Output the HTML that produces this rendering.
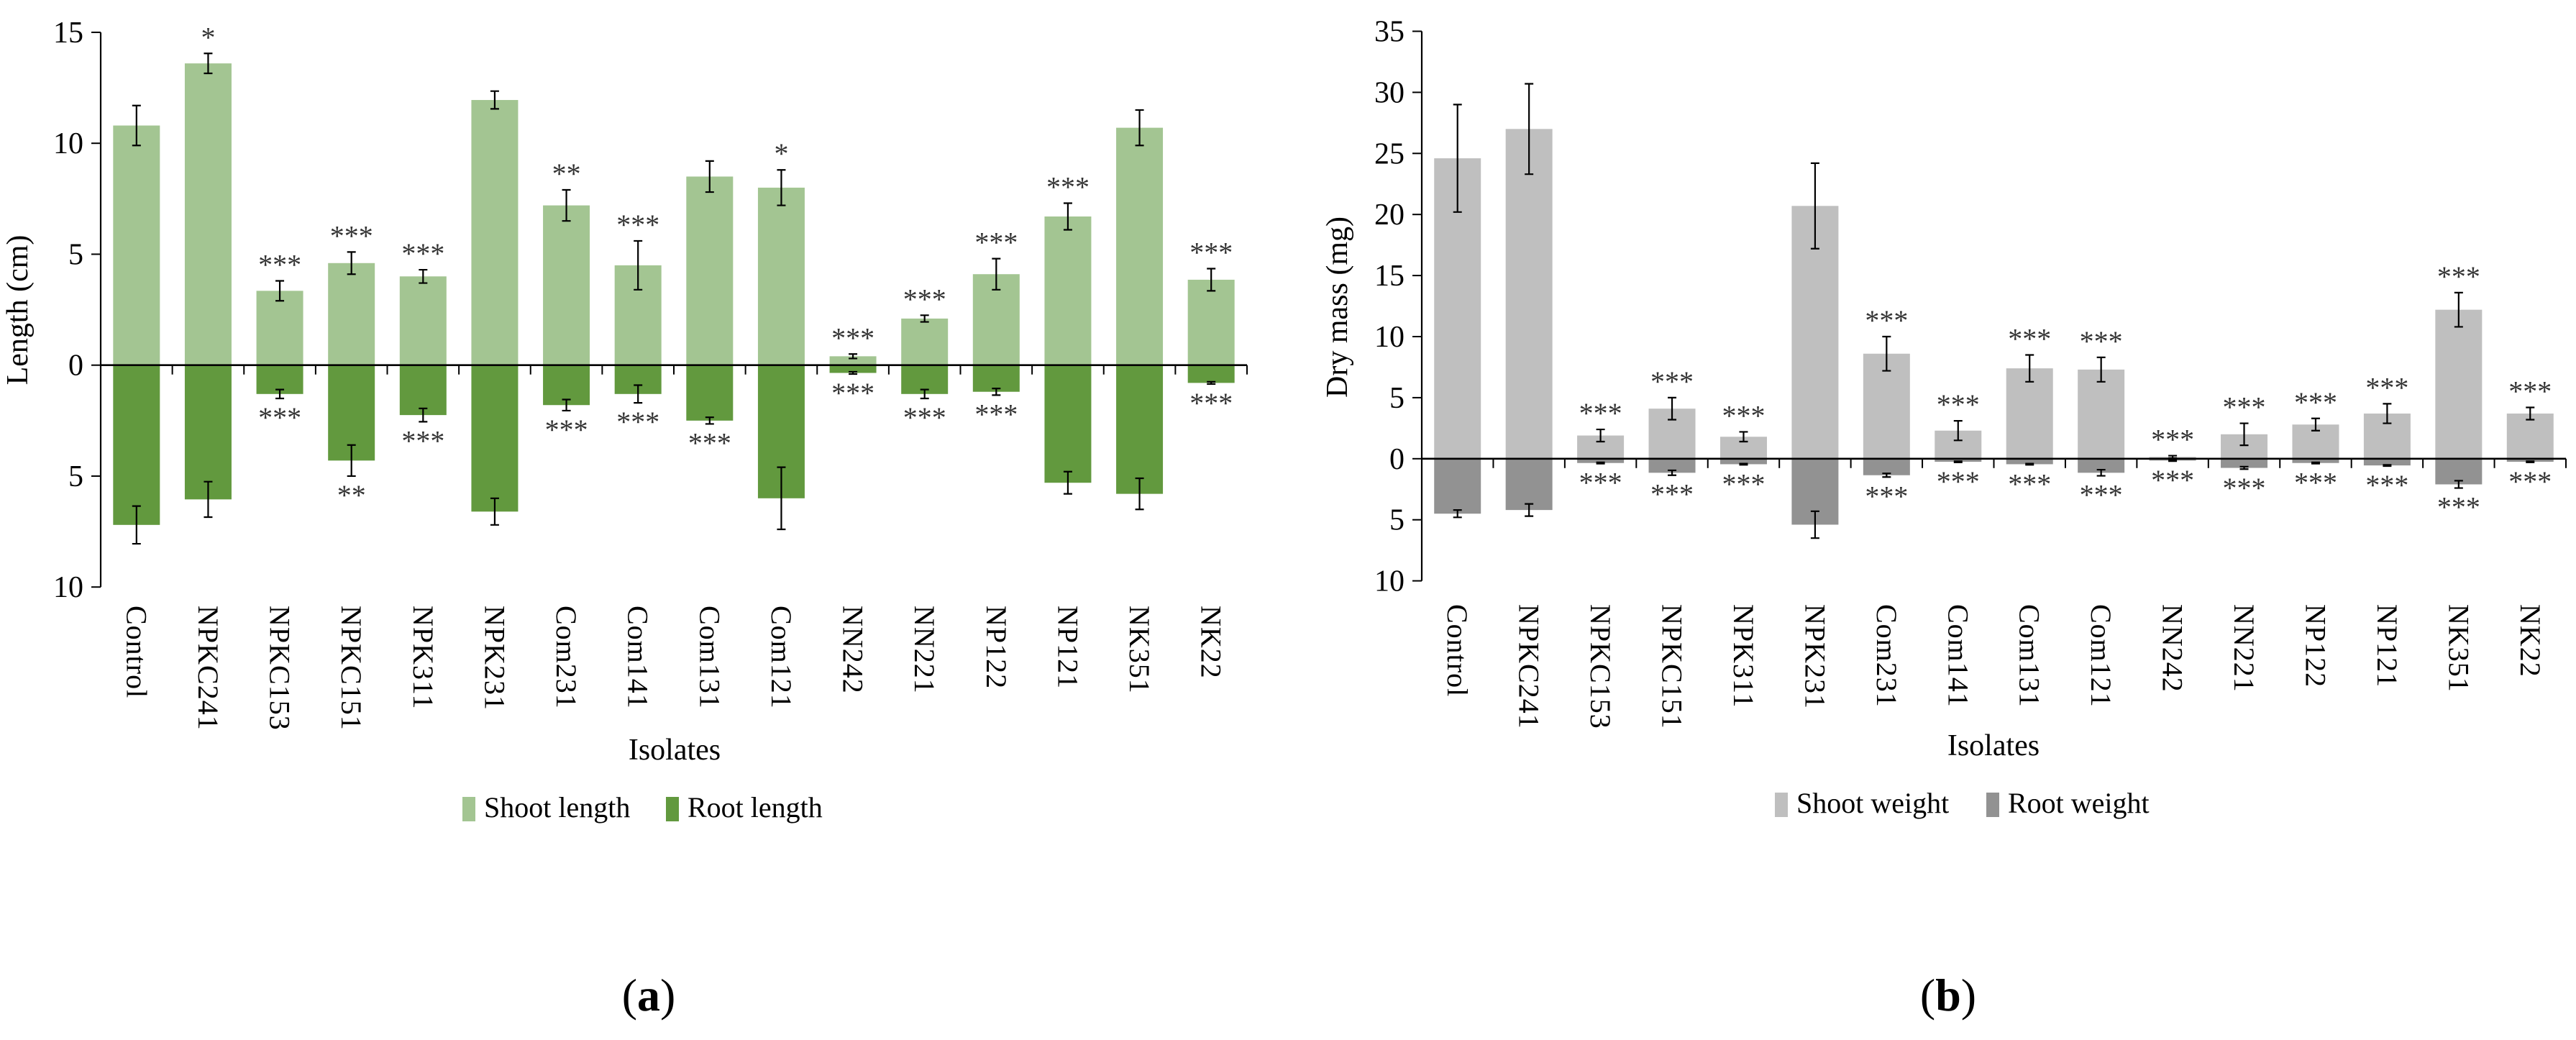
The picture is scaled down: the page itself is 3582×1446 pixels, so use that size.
<!DOCTYPE html>
<html><head><meta charset="utf-8">
<style>
html,body{margin:0;padding:0;background:#fff;}
svg{display:block;}
svg text{font-family:"Liberation Serif","DejaVu Serif","Times New Roman",serif !important;}
</style></head>
<body>
<svg id="fig" width="3582" height="1446" viewBox="0 0 3582 1446" xmlns="http://www.w3.org/2000/svg" font-family="Liberation Serif, serif">
<g id="chartA"></g>
<g id="chartB"></g>
<text x="902" y="1405" font-size="64" text-anchor="middle">(<tspan font-weight="bold">a</tspan>)</text>
<text x="2709" y="1405" font-size="64" text-anchor="middle">(<tspan font-weight="bold">b</tspan>)</text>
</svg>
<script>
const categories = ["Control","NPKC241","NPKC153","NPKC151","NPK311","NPK231","Com231","Com141","Com131","Com121","NN242","NN221","NP122","NP121","NK351","NK22"];
const shootLength = [10.8,13.6,3.35,4.6,4.0,11.95,7.2,4.5,8.5,8.0,0.4,2.1,4.1,6.7,10.7,3.85];
const shootLengthErr = [0.9,0.45,0.45,0.5,0.3,0.4,0.7,1.1,0.7,0.8,0.1,0.15,0.7,0.6,0.8,0.5];
const rootLength = [7.2,6.05,1.3,4.3,2.25,6.6,1.8,1.3,2.5,6.0,0.35,1.3,1.2,5.3,5.8,0.8];
const rootLengthErr = [0.85,0.8,0.2,0.7,0.3,0.6,0.25,0.4,0.15,1.4,0.05,0.2,0.15,0.5,0.7,0.05];
const shootLengthSig = ["","*","***","***","***","","**","***","","*","***","***","***","***","","***"];
const rootLengthSig = ["","","***","**","***","","***","***","***","","***","***","***","","","***"];
const lengthTicks = [15,10,5,0,-5,-10];

const shootWeight = [24.6,27.0,1.9,4.1,1.8,20.7,8.6,2.3,7.4,7.3,0.15,2.0,2.8,3.7,12.2,3.7];
const shootWeightErr = [4.4,3.7,0.5,0.9,0.4,3.5,1.4,0.8,1.1,1.0,0.1,0.9,0.5,0.8,1.4,0.5];
const rootWeight = [4.5,4.2,0.35,1.15,0.45,5.4,1.35,0.25,0.45,1.15,0.15,0.75,0.35,0.55,2.1,0.25];
const rootWeightErr = [0.3,0.5,0.05,0.2,0.05,1.1,0.15,0.05,0.05,0.25,0.05,0.1,0.05,0.05,0.3,0.05];
const shootWeightSig = ["","","***","***","***","","***","***","***","***","***","***","***","***","***","***"];
const rootWeightSig = ["","","***","***","***","","***","***","***","***","***","***","***","***","***","***"];
const weightTicks = [35,30,25,20,15,10,5,0,-5,-10];

const NS="http://www.w3.org/2000/svg";
function mk(parent,tag,attrs,txt){
  const e=document.createElementNS(NS,tag);
  for(const k in attrs) e.setAttribute(k,attrs[k]);
  if(txt!==undefined) e.textContent=txt;
  parent.appendChild(e);
  return e;
}

function drawChart(cfg){
  const g=document.getElementById(cfg.id);
  const n=categories.length;
  const step=(cfg.x1-cfg.x0)/n;
  const yS=v=>cfg.zeroY - v*cfg.ppu;
  const xC=i=>cfg.x0+step*(i+0.5);
  const bw=65;
  for(let i=0;i<n;i++){
    const ts=yS(cfg.shoot[i]);
    const b1=mk(g,'rect',{x:xC(i)-bw/2,y:ts,width:bw,height:cfg.zeroY-ts,fill:cfg.c1});
    
    
    const rb=yS(-cfg.root[i]);
    const b2=mk(g,'rect',{x:xC(i)-bw/2,y:cfg.zeroY,width:bw,height:rb-cfg.zeroY,fill:cfg.c2});
    
    
  }
  for(let i=0;i<n;i++){
    const x=xC(i);
    const sTop=yS(cfg.shoot[i]+cfg.shootErr[i]), sBot=yS(cfg.shoot[i]-cfg.shootErr[i]);
    const eb=mk(g,'path',{d:`M${x},${sTop}V${sBot}M${x-6},${sTop}H${x+6}M${x-6},${sBot}H${x+6}`,stroke:'#000','stroke-width':2.2,fill:'none'});
    
    
    const rTop=yS(-cfg.root[i]+cfg.rootErr[i]), rBot=yS(-cfg.root[i]-cfg.rootErr[i]);
    const eb2=mk(g,'path',{d:`M${x},${rTop}V${rBot}M${x-6},${rTop}H${x+6}M${x-6},${rBot}H${x+6}`,stroke:'#000','stroke-width':2.2,fill:'none'});
    
    
    if(cfg.shootSig[i]){
      const t=mk(g,'text',{x:x,y:sTop-9,'font-size':40,'text-anchor':'middle',fill:'#333'},cfg.shootSig[i]);
      
      
    }
    if(cfg.rootSig[i]){
      const t=mk(g,'text',{x:x,y:rBot+40,'font-size':40,'text-anchor':'middle',fill:'#333'},cfg.rootSig[i]);
      
      
    }
  }
  const yTop=yS(cfg.ticks[0]), yBot=yS(cfg.ticks[cfg.ticks.length-1]);
  const ax=mk(g,'line',{x1:cfg.x0,y1:yTop,x2:cfg.x0,y2:yBot,stroke:'#000','stroke-width':2.2});
  
  
  cfg.ticks.forEach(v=>{
    const y=yS(v);
    mk(g,'line',{x1:cfg.x0-13,y1:y,x2:cfg.x0,y2:y,stroke:'#000','stroke-width':2});
    const t=mk(g,'text',{x:cfg.x0-24,y:y+14,'font-size':42,'text-anchor':'end'},String(Math.abs(v)));
    
    
  });
  const xa=mk(g,'line',{x1:cfg.x0,y1:cfg.zeroY,x2:cfg.x1,y2:cfg.zeroY,stroke:'#000','stroke-width':2.6});
  
  
  for(let i=1;i<=n;i++){
    const x=cfg.x0+step*i;
    mk(g,'line',{x1:x,y1:cfg.zeroY,x2:x,y2:cfg.zeroY+13,stroke:'#000','stroke-width':2});
  }
  categories.forEach((c,i)=>{
    const x=xC(i), y=cfg.labelY;
    const t=mk(g,'text',{x:x,y:y,'font-size':40,transform:`rotate(90 ${x} ${y})`,'dominant-baseline':'central','letter-spacing':'1'},c);
    
    
  });
  const yt=mk(g,'text',{x:cfg.ytX,y:cfg.ytY,'font-size':42,'text-anchor':'middle',transform:`rotate(-90 ${cfg.ytX} ${cfg.ytY})`},cfg.ytitle);
  
  
  const xt=mk(g,'text',{x:cfg.xtX,y:cfg.xtY,'font-size':42,'text-anchor':'middle'},'Isolates');
  
  
  const lg=mk(g,'g',{});
  
  
  mk(lg,'rect',{x:cfg.lg[0],y:cfg.lgY-28,width:18,height:34,fill:cfg.c1});
  const l1=mk(lg,'text',{x:cfg.lg[0]+30,y:cfg.lgY,'font-size':40},cfg.names[0]);
  
  
  mk(lg,'rect',{x:cfg.lg[1],y:cfg.lgY-28,width:18,height:34,fill:cfg.c2});
  const l2=mk(lg,'text',{x:cfg.lg[1]+30,y:cfg.lgY,'font-size':40},cfg.names[1]);
  
  
}

drawChart({id:'chartA',x0:140,x1:1734,zeroY:507.7,ppu:30.85,ticks:lengthTicks,
  shoot:shootLength,shootErr:shootLengthErr,root:rootLength,rootErr:rootLengthErr,
  shootSig:shootLengthSig,rootSig:rootLengthSig,c1:'#a3c592',c2:'#62993e',
  labelY:842,ytitle:'Length (cm)',ytX:38,ytY:431,xtX:938,xtY:1056,
  lg:[643,926],lgY:1136,names:['Shoot length','Root length']});
drawChart({id:'chartB',x0:1977,x1:3568,zeroY:637.8,ppu:16.98,ticks:weightTicks,
  shoot:shootWeight,shootErr:shootWeightErr,root:rootWeight,rootErr:rootWeightErr,
  shootSig:shootWeightSig,rootSig:rootWeightSig,c1:'#bfbfbf',c2:'#929292',
  labelY:840,ytitle:'Dry mass (mg)',ytX:1873,ytY:427,xtX:2772,xtY:1050,
  lg:[2468,2762],lgY:1130,names:['Shoot weight','Root weight']});
</script>
</body></html>
